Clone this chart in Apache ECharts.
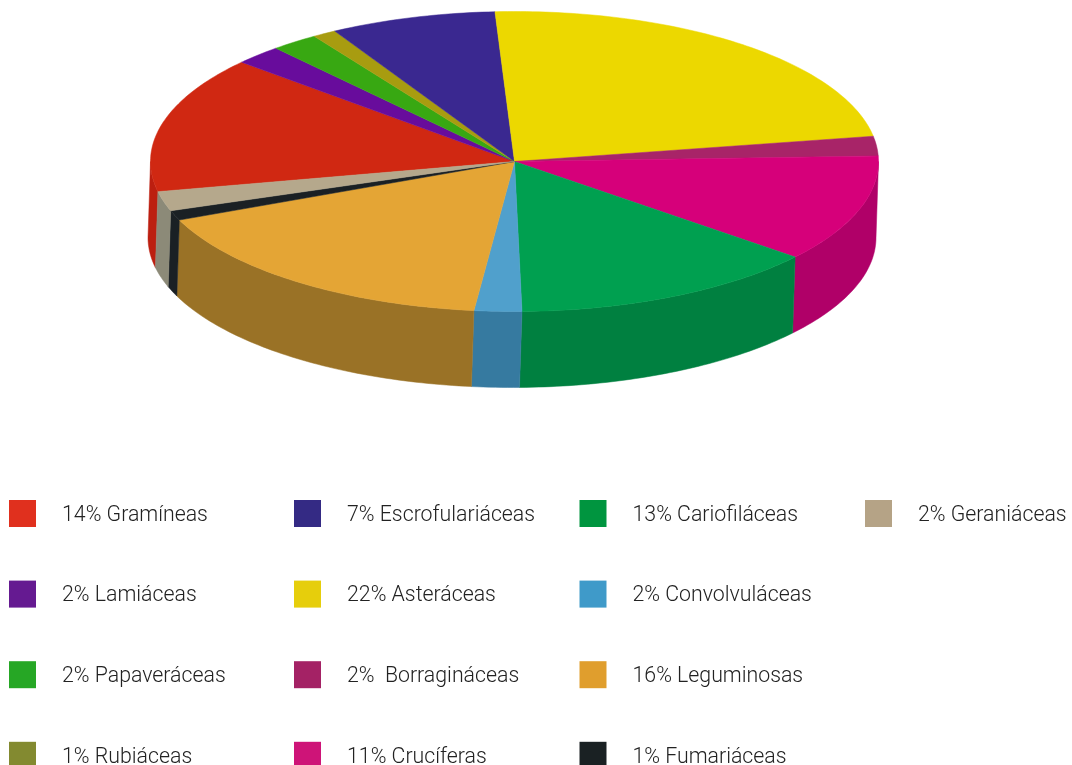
<!DOCTYPE html>
<html>
<head>
<meta charset="utf-8">
<style>html,body{margin:0;padding:0;background:#fff}#chart{width:1072px;height:765px}</style>
<script src="https://cdn.jsdelivr.net/npm/echarts@6/dist/echarts.min.js"></script>
</head>
<body>
<div id="chart"></div>
<script>
// Plant families and their share, clockwise around the pie
const families = ['Gramíneas','Lamiáceas','Papaveráceas','Rubiáceas','Escrofulariáceas','Asteráceas','Borragináceas','Crucíferas','Cariofiláceas','Convolvuláceas','Leguminosas','Fumariáceas','Geraniáceas'];
const percents = [14,2,2,1,7,22,2,11,13,2,16,1,2];
const legendLabels = ['14% Gramíneas','2% Lamiáceas','2% Papaveráceas','1% Rubiáceas','7% Escrofulariáceas','22% Asteráceas','2%  Borragináceas','11% Crucíferas','13% Cariofiláceas','2% Convolvuláceas','16% Leguminosas','1% Fumariáceas','2% Geraniáceas'];

// Palettes: legend swatch, upper face, outer wall
const swatchColors = ['#e0301e','#651a91','#26a725','#838a30','#342a84','#e6ce0c','#a42265','#ce1478','#00953f','#3f9ac9','#e09e2d','#1a2123','#b5a386'];
const faceColors = ['#d02812','#680c9c','#38a812','#a89c10','#3a2890','#ecd800','#a82468','#d6007a','#00a050','#50a0cc','#e4a535','#1a2024','#b5a88c'];
const wallColors = ['#bc1f10','#680c9c','#38a812','#a89c10','#3a2890','#ecd800','#a82468','#b00068','#008040','#367aa0','#9a7226','#1a2024','#8c8a78'];

// Tilted pie geometry
const cx = 514.5, cy = 161.5, rx = 364, ry = 150;
const wallDx = -2.5, wallDy = 76;
const startDeg = 258.4;
const total = percents.reduce((a, b) => a + b, 0);

// Point on the rim for an angle measured clockwise from 12 o'clock
function rim(deg, dx, dy) {
  const t = deg * Math.PI / 180;
  return [cx + rx * Math.sin(t) + dx, cy - ry * Math.cos(t) + dy];
}

function arc(from, to, dx, dy) {
  const pts = [];
  const n = Math.max(2, Math.ceil(Math.abs(to - from)));
  for (let i = 0; i <= n; i++) pts.push(rim(from + (to - from) * i / n, dx, dy));
  return pts;
}

// Only the front half of the rim has a visible wall
function wallRange(a0, a1) {
  const ranges = [];
  for (const shift of [0, 360]) {
    const lo = Math.max(a0 + shift, 90), hi = Math.min(a1 + shift, 270);
    if (hi > lo) ranges.push([lo, hi]);
  }
  return ranges;
}

function sliceRenderer(index) {
  return function (params, api) {
    const before = percents.slice(0, index).reduce((a, b) => a + b, 0);
    const a0 = (startDeg + before / total * 360) % 360;
    const a1 = a0 + api.value(0) / total * 360;
    const children = [];
    wallRange(a0, a1).forEach(([lo, hi]) => {
      const pts = arc(lo, hi, 0, 0).concat(arc(hi, lo, wallDx, wallDy));
      children.push({
        type: 'polygon', z2: 1, shape: { points: pts },
        style: { fill: wallColors[index], stroke: wallColors[index], lineWidth: 0.5 }
      });
    });
    children.push({
      type: 'polygon', z2: 10,
      shape: { points: [[cx, cy]].concat(arc(a0, a1, 0, 0)) },
      style: { fill: faceColors[index], stroke: faceColors[index], lineWidth: 0.5 }
    });
    return { type: 'group', children };
  };
}

const legendText = { fontFamily: 'Roboto', fontWeight: 300, fontSize: 21.3, lineHeight: 22, color: '#222', padding: [5, 0, 0, 21] };
legendText.rich = { label: { fontFamily: 'Roboto', fontWeight: 300, fontSize: 21.3, lineHeight: 22, color: '#222', padding: [4, 0, 0, 0] } };
function legendColumn(left, names) {
  return {
    orient: 'vertical', left, top: 500, height: 300, padding: 0,
    itemWidth: 27, itemHeight: 27, itemGap: 53.6,
    icon: 'rect', selectedMode: false,
    formatter: name => `{label|${name}}`,
    textStyle: { ...legendText, padding: [0, 0, 0, 21], lineHeight: 26 }, data: names
  };
}

const chart = echarts.init(document.getElementById('chart'));
chart.setOption({
  backgroundColor: '#fff',
  animation: false,
  legend: [
    legendColumn(9, legendLabels.slice(0, 4)),
    legendColumn(294, legendLabels.slice(4, 8)),
    legendColumn(579.5, legendLabels.slice(8, 12)),
    legendColumn(865, legendLabels.slice(12))
  ],
  series: families.map((family, i) => ({
    type: 'custom',
    name: legendLabels[i],
    coordinateSystem: 'none',
    silent: true,
    itemStyle: { color: swatchColors[i] },
    data: [[percents[i]]],
    renderItem: sliceRenderer(i)
  }))
});
</script>
</body>
</html>
